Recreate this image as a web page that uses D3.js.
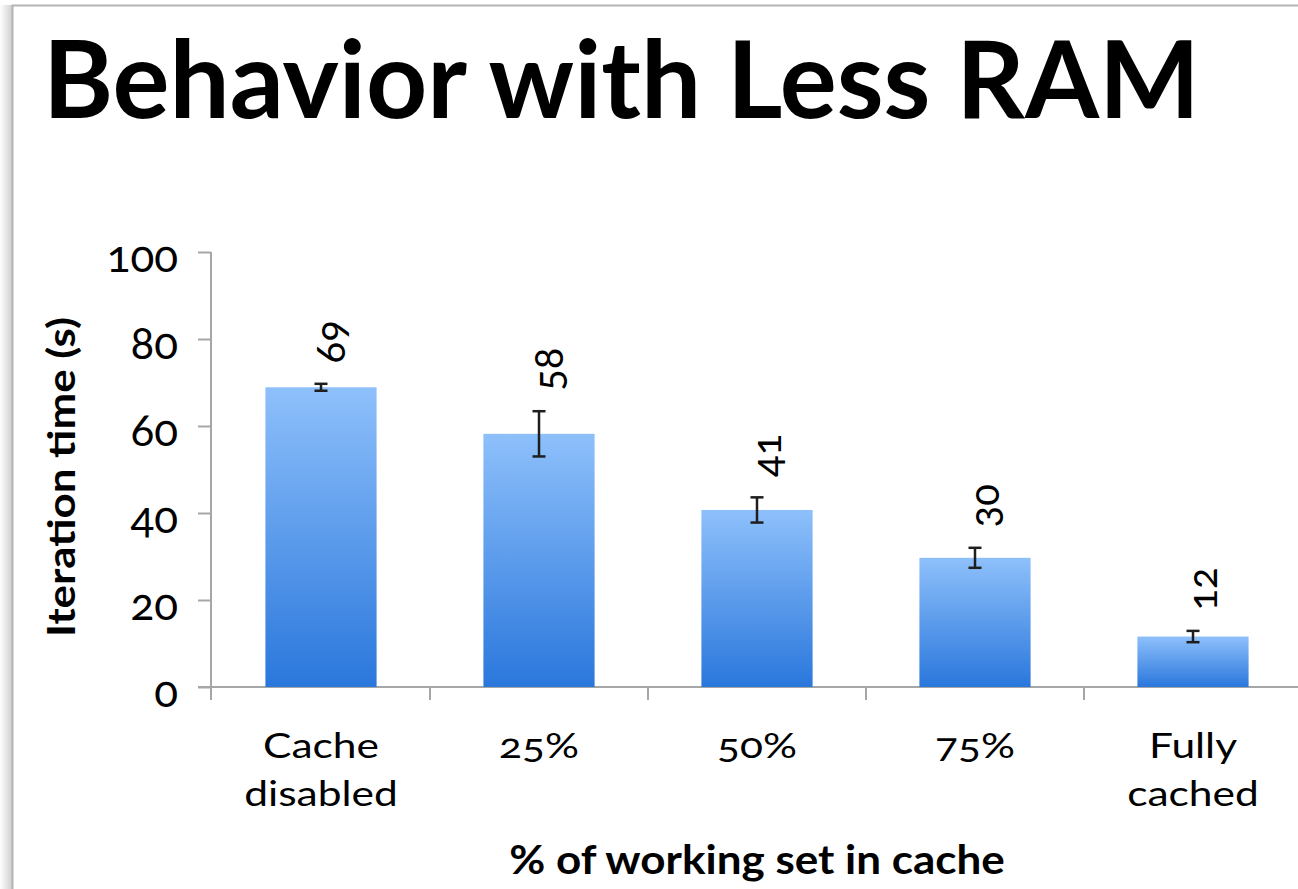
<!DOCTYPE html>
<meta charset="utf-8">
<title>Behavior with Less RAM</title>
<style>
body { margin: 0; background: #e8e8e8; overflow: hidden; }
svg { display: block; }
text { font-family: Lato, 'Open Sans', sans-serif; fill: #000; font-variant-numeric: oldstyle-nums; }
</style>
<svg width="1298" height="889"></svg>
<script src="https://d3js.org/d3.v7.min.js"></script>
<script>
var categories = [["Cache", "disabled"], ["25%"], ["50%"], ["75%"], ["Fully", "cached"]],
    values = [68.9, 58.2, 40.7, 29.7, 11.6],   // iteration time (s)
    errors = [0.8, 5.2, 2.9, 2.3, 1.3],
    yTicks = [0, 20, 40, 60, 80, 100];

var svg = d3.select("svg");

// the original font is wider than Lato, so stretch text a little
function stretch(sel, k) {
  sel.each(function() {
    var len = this.getComputedTextLength();
    d3.select(this).attr("textLength", len * k).attr("lengthAdjust", "spacingAndGlyphs");
  });
}

// slide background with a soft shadow on the left
var defs = svg.append("defs");
var shadow = defs.append("linearGradient").attr("id", "shadow");
shadow.append("stop").attr("offset", 0).attr("stop-color", "#ffffff");
shadow.append("stop").attr("offset", 1).attr("stop-color", "#d0d0d0");
svg.append("rect").attr("x", 0).attr("y", 0).attr("width", 1298).attr("height", 889).attr("fill", "#fff");
svg.append("rect").attr("x", 0).attr("y", 5).attr("width", 12).attr("height", 884).attr("fill", "url(#shadow)");
svg.append("path").attr("d", "M12.5,889V5.5H1298").attr("fill", "none").attr("stroke", "#b4b4b4").attr("stroke-width", 2);

var barFill = defs.append("linearGradient").attr("id", "bar")
    .attr("x1", 0).attr("y1", 0).attr("x2", 0).attr("y2", 1);
barFill.append("stop").attr("offset", 0).attr("stop-color", "#8ec0fb");
barFill.append("stop").attr("offset", 1).attr("stop-color", "#2a77dc");

// title, scaled to span the same width as the original
var title = svg.append("text")
    .attr("x", 43).attr("y", 118)
    .style("font-weight", 700).style("font-size", "110px")
    .text("Behavior with Less RAM");
var tw = title.node().getComputedTextLength();
title.style("font-size", (110 * 1157 / tw) + "px");

var x = d3.scaleBand().domain(d3.range(categories.length)).range([212, 1302]).padding(0);
var y = d3.scaleLinear().domain([0, 100]).range([687, 252]);
var barW = x.bandwidth() * 0.51;
function cx(i) { return x(i) + x.bandwidth() / 2; }

// axes
var axisColor = "#a6a6a6";
var yAxis = svg.append("g").attr("transform", "translate(211,0)")
    .call(d3.axisLeft(y).tickValues(yTicks).tickSize(13).tickPadding(20));
yAxis.select(".domain").remove();
yAxis.append("line").attr("x1", 0).attr("x2", 0).attr("y1", y(100)).attr("y2", 700);
yAxis.selectAll("line").attr("stroke", axisColor).attr("stroke-width", 2);
yAxis.selectAll("text").style("font-size", "44px").attr("fill", "#000")
    .style("font-family", null).attr("dy", "0.45em");

var xAxis = svg.append("g");
xAxis.append("line").attr("x1", 198).attr("x2", 1298).attr("y1", y(0)).attr("y2", y(0))
    .attr("stroke", axisColor).attr("stroke-width", 2);
xAxis.selectAll("line.tick").data(d3.range(1, categories.length)).enter().append("line")
    .attr("class", "tick")
    .attr("x1", function(i) { return x(i); }).attr("x2", function(i) { return x(i); })
    .attr("y1", y(0)).attr("y2", 700)
    .attr("stroke", axisColor).attr("stroke-width", 2);

// bars
svg.selectAll("rect.bar").data(values).enter().append("rect")
    .attr("class", "bar")
    .attr("x", function(d, i) { return x(i) + (x.bandwidth() - barW) / 2; })
    .attr("y", function(d) { return y(d); })
    .attr("width", barW)
    .attr("height", function(d) { return y(0) - y(d); })
    .attr("fill", "url(#bar)");

// error bars
var eb = svg.selectAll("g.err").data(values).enter().append("g").attr("class", "err")
    .attr("stroke", "#1e1e1e").attr("stroke-width", 2.5);
eb.append("line")
    .attr("x1", function(d, i) { return cx(i); }).attr("x2", function(d, i) { return cx(i); })
    .attr("y1", function(d, i) { return y(d + errors[i]); })
    .attr("y2", function(d, i) { return y(d - errors[i]); });
[1, -1].forEach(function(s) {
  eb.append("line")
    .attr("x1", function(d, i) { return cx(i) - 6.5; }).attr("x2", function(d, i) { return cx(i) + 6.5; })
    .attr("y1", function(d, i) { return y(d + s * errors[i]); })
    .attr("y2", function(d, i) { return y(d + s * errors[i]); });
});

// rotated value labels
svg.selectAll("text.val").data(values).enter().append("text")
    .attr("class", "val")
    .attr("transform", function(d, i) {
      return "translate(" + (cx(i) + 9) + "," + (y(d + errors[i]) - 42) + ") rotate(-90)";
    })
    .attr("text-anchor", "middle")
    .attr("dominant-baseline", "central")
    .style("font-size", "40px")
    .text(function(d) { return d3.format(".0f")(d); });

// category labels
var cat = svg.selectAll("text.cat").data(categories).enter().append("text")
    .attr("class", "cat")
    .attr("text-anchor", "middle")
    .style("font-size", "34px");
var lines = cat.selectAll("tspan").data(function(d, i) { return d.map(function(t) { return [t, i]; }); })
  .enter().append("tspan")
    .attr("x", function(d) { return cx(d[1]); })
    .attr("y", function(d, j) { return 758 + j * 48; })
    .text(function(d) { return d[0]; });
stretch(lines, 1.25);

// axis titles
var xt = svg.append("text")
    .attr("x", 757).attr("y", 874).attr("text-anchor", "middle")
    .style("font-size", "40px").style("font-weight", 700)
    .text("% of working set in cache");
stretch(xt, 1.1);
var yt = svg.append("text")
    .attr("transform", "translate(75,477) rotate(-90)").attr("text-anchor", "middle")
    .style("font-size", "38px").style("font-weight", 700)
    .text("Iteration time (s)");
stretch(yt, 320 / yt.node().getComputedTextLength());
</script>
